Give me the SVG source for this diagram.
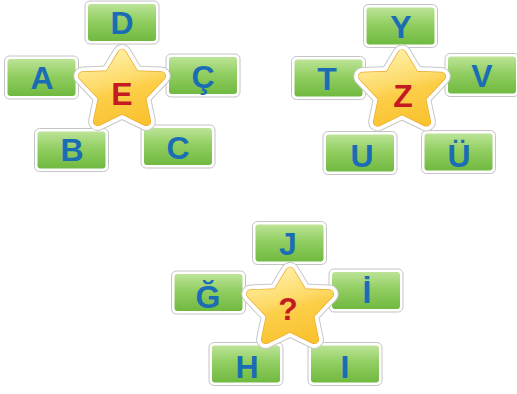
<svg xmlns="http://www.w3.org/2000/svg" xmlns:xlink="http://www.w3.org/1999/xlink" width="517" height="394" viewBox="0 0 517 394">
<style>
.lt{font-family:"Liberation Sans",Arial,sans-serif;font-weight:bold;font-size:32px;fill:#1a6db5;text-anchor:middle}
.ct{font-family:"Liberation Sans",Arial,sans-serif;font-weight:bold;font-size:32px;fill:#c41a22;text-anchor:middle}
</style>
<defs>
<linearGradient id="gg" gradientUnits="userSpaceOnUse" x1="0" y1="-18.5" x2="0" y2="18.5">
<stop offset="0" stop-color="#bce497"/>
<stop offset="0.45" stop-color="#92ce62"/>
<stop offset="1" stop-color="#70b940"/>
</linearGradient>
<linearGradient id="sg" gradientUnits="userSpaceOnUse" x1="-10" y1="-43" x2="10" y2="34">
<stop offset="0" stop-color="#fff0a6"/>
<stop offset="0.4" stop-color="#fddb6c"/>
<stop offset="0.55" stop-color="#fcce48"/>
<stop offset="1" stop-color="#f9c22f"/>
</linearGradient>
<path id="sp" d="M0,-38.5 L13,-17.1 L39.3,-16 L19.3,5.2 L24.4,29.4 L0,17.6 L-24.4,29.4 L-19.3,5.2 L-39.3,-16 L-13,-17.1 Z" stroke-linejoin="round"/>
<g id="box">
<rect x="-37" y="-21.5" width="74" height="43" rx="5" fill="#fff" stroke="#c4c4c4" stroke-width="1"/>
<rect x="-34" y="-18.5" width="68" height="37" rx="3" fill="url(#gg)"/>
</g>
<g id="star">
<use xlink:href="#sp" fill="#c8c8c8" stroke="#c8c8c8" stroke-width="19"/>
<use xlink:href="#sp" fill="#fff" stroke="#fff" stroke-width="17"/>
<use xlink:href="#sp" fill="#eea82a" stroke="#eea82a" stroke-width="9.4"/>
<use xlink:href="#sp" fill="url(#sg)" stroke="url(#sg)" stroke-width="8"/>
</g>
</defs>

<g id="box-D"><use xlink:href="#box" transform="translate(122,22.5)"/><text class="lt" x="122" y="33.5">D</text></g>
<g id="box-A"><use xlink:href="#box" transform="translate(41.5,77.5)"/><text class="lt" x="42" y="89">A</text></g>
<g id="box-C-cedilla"><use xlink:href="#box" transform="translate(203,75.5)"/><text class="lt" x="203" y="88">Ç</text></g>
<g id="box-B"><use xlink:href="#box" transform="translate(71.5,150)"/><text class="lt" x="72" y="160.5">B</text></g>
<g id="box-C"><use xlink:href="#box" transform="translate(178,146.5)"/><text class="lt" x="178" y="158.5">C</text></g>
<g id="star-E"><use xlink:href="#star" transform="translate(122,92)"/><text class="ct" x="122" y="105">E</text></g>

<g id="box-Y"><use xlink:href="#box" transform="translate(400.5,26)"/><text class="lt" x="401" y="38">Y</text></g>
<g id="box-T"><use xlink:href="#box" transform="translate(328.5,78)"/><text class="lt" x="327" y="90">T</text></g>
<g id="box-V"><use xlink:href="#box" transform="translate(482,75)"/><text class="lt" x="482" y="87">V</text></g>
<g id="box-U"><use xlink:href="#box" transform="translate(360,153)"/><text class="lt" x="362" y="167">U</text></g>
<g id="box-U-umlaut"><use xlink:href="#box" transform="translate(458.5,152)"/><text class="lt" x="459" y="167">Ü</text></g>
<g id="star-Z"><use xlink:href="#star" transform="translate(402,92.5)"/><text class="ct" x="403" y="107">Z</text></g>

<g id="box-J"><use xlink:href="#box" transform="translate(289.5,243)"/><text class="lt" x="288" y="255">J</text></g>
<g id="box-G-breve"><use xlink:href="#box" transform="translate(208.5,292.5)"/><text class="lt" x="208" y="308">Ğ</text></g>
<g id="box-I-dot"><use xlink:href="#box" transform="translate(366,290.5)"/><text class="lt" x="367" y="303">İ</text></g>
<g id="box-H"><use xlink:href="#box" transform="translate(246,364)"/><text class="lt" x="247" y="378">H</text></g>
<g id="box-I"><use xlink:href="#box" transform="translate(345,364)"/><text class="lt" x="345" y="378">I</text></g>
<g id="star-q"><use xlink:href="#star" transform="translate(290,310)"/><text class="ct" x="288" y="320">?</text></g>
</svg>
